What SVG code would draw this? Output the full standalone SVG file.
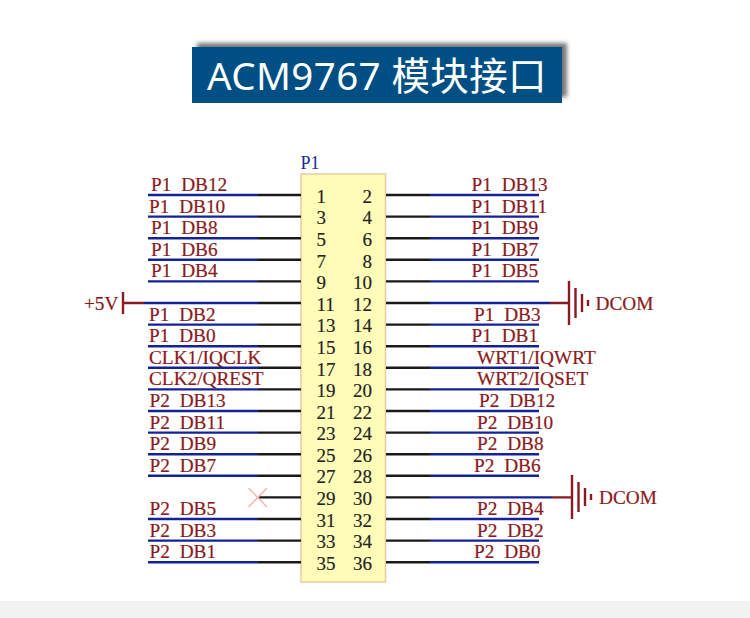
<svg xmlns="http://www.w3.org/2000/svg" width="750" height="618" viewBox="0 0 750 618">
<style>
.lbl{font-family:"Liberation Serif",serif;font-size:19.3px;fill:#8a1a20;stroke:#8a1a20;stroke-width:.2;word-spacing:5px}
.pin{font-family:"Liberation Serif",serif;font-size:19px;fill:#222;stroke:#222;stroke-width:.15}
.r{text-anchor:end}
.net{stroke:#14229a;stroke-width:2.4;fill:none}
.wire{stroke:#1a1a1a;stroke-width:2.4;fill:none}
.pwr{stroke:#8a1a20;stroke-width:2.4;fill:none}
</style>
<defs><filter id="blur" x="-5%" y="-30%" width="110%" height="160%"><feGaussianBlur stdDeviation="2"/></filter></defs>
<rect id="footer" x="0" y="601" width="750" height="17" fill="#f2f2f2"/>
<g id="title">
<rect x="197" y="43" width="370" height="54" fill="#777" filter="url(#blur)"/>
<rect x="192" y="47" width="370" height="56" fill="#004f84"/>
<text x="207" y="90" font-family="'Noto Sans','Noto Sans CJK SC',sans-serif" font-size="38.500" letter-spacing="0.400" fill="#fff">ACM9767 模块接口</text>
</g>
<g id="connector-P1">
<rect x="301" y="174" width="84.500" height="408" fill="#fffdb8" stroke="#edc9a0" stroke-width="1.500"/>
<text x="300.500" y="169" font-family="'Liberation Serif',serif" font-size="18" fill="#1c2a9c">P1</text>
<g class="pin">
<text x="316.500" y="202.700">1</text><text x="316.500" y="224.300">3</text><text x="316.500" y="245.900">5</text><text x="316.500" y="267.500">7</text><text x="316.500" y="289.100">9</text><text x="316.500" y="310.700">11</text><text x="316.500" y="332.300">13</text><text x="316.500" y="353.900">15</text><text x="316.500" y="375.500">17</text><text x="316.500" y="397">19</text><text x="316.500" y="418.600">21</text><text x="316.500" y="440.200">23</text><text x="316.500" y="461.800">25</text><text x="316.500" y="483.400">27</text><text x="316.500" y="505">29</text><text x="316.500" y="526.500">31</text><text x="316.500" y="548">33</text><text x="316.500" y="569.500">35</text>
<g class="r"><text x="372" y="202.700">2</text><text x="372" y="224.300">4</text><text x="372" y="245.900">6</text><text x="372" y="267.500">8</text><text x="372" y="289.100">10</text><text x="372" y="310.700">12</text><text x="372" y="332.300">14</text><text x="372" y="353.900">16</text><text x="372" y="375.500">18</text><text x="372" y="397">20</text><text x="372" y="418.600">22</text><text x="372" y="440.200">24</text><text x="372" y="461.800">26</text><text x="372" y="483.400">28</text><text x="372" y="505">30</text><text x="372" y="526.500">32</text><text x="372" y="548">34</text><text x="372" y="569.500">36</text></g>
</g>
</g>
<g id="connectors">
<path class="wire" d="M258 195H301M258 216.600H301M258 238.200H301M258 259.800H301M258 281.400H301M258 303H301M258 324.600H301M258 346.200H301M258 367.800H301M258 389.400H301M258 411H301M258 432.600H301M258 454.200H301M258 475.800H301M258 497.400H301M258 519H301M258 540.600H301M258 562.200H301"/>
<path class="wire" d="M386 195H430M386 216.600H430M386 238.200H430M386 259.800H430M386 281.400H430M386 303H430M386 324.600H430M386 346.200H430M386 367.800H430M386 389.400H430M386 411H430M386 432.600H430M386 454.200H430M386 475.800H430M386 497.400H430M386 519H430M386 540.600H430M386 562.200H430"/>
<path class="net" d="M148 195H258M148 216.600H258M148 238.200H258M148 259.800H258M148 281.400H258M144 303H258M148 324.600H258M148 346.200H258M148 367.800H258M148 389.400H258M148 411H258M148 432.600H258M148 454.200H258M148 475.800H258M148 519H258M148 540.600H258M148 562.200H258"/>
<path class="net" d="M430 195H539M430 216.600H539M430 238.200H539M430 259.800H539M430 281.400H539M430 303H550M430 324.600H539M430 346.200H539M430 367.800H539M430 389.400H539M430 411H539M430 432.600H539M430 454.200H539M430 475.800H539M430 497.400H552M430 519H539M430 540.600H539M430 562.200H539"/>
</g>
<g id="labels-left" class="lbl">
<text x="151" y="191">P1 DB12</text><text x="149" y="212.500">P1 DB10</text><text x="151" y="234.200">P1 DB8</text><text x="151" y="255.800">P1 DB6</text><text x="151" y="277.400">P1 DB4</text><text x="149" y="320.500">P1 DB2</text><text x="149" y="342.200">P1 DB0</text><text x="149" y="363.800">CLK1/IQCLK</text><text x="149" y="385.400">CLK2/QREST</text><text x="149.500" y="407">P2 DB13</text><text x="149.500" y="428.500">P2 DB11</text><text x="149.500" y="450.200">P2 DB9</text><text x="149.500" y="471.800">P2 DB7</text><text x="149.500" y="515">P2 DB5</text><text x="149.500" y="536.500">P2 DB3</text><text x="149.500" y="558.200">P2 DB1</text>
</g>
<g id="labels-right" class="lbl">
<text x="471.500" y="191">P1 DB13</text><text x="471.500" y="212.500">P1 DB11</text><text x="471.500" y="234.200">P1 DB9</text><text x="471.500" y="255.800">P1 DB7</text><text x="471.500" y="277.400">P1 DB5</text><text x="474" y="320.500">P1 DB3</text><text x="471.500" y="342.200">P1 DB1</text><text x="477" y="363.800">WRT1/IQWRT</text><text x="477" y="385.400">WRT2/IQSET</text><text x="479" y="407">P2 DB12</text><text x="477" y="428.500">P2 DB10</text><text x="477" y="450.200">P2 DB8</text><text x="474" y="471.800">P2 DB6</text><text x="477" y="515">P2 DB4</text><text x="477" y="536.500">P2 DB2</text><text x="474" y="558.200">P2 DB0</text>
</g>
<g id="power-5V">
<path class="pwr" d="M123 292V314M123 303H144"/>
<text class="lbl" x="84" y="309.500">+5V</text>
</g>
<g id="ground-DCOM-1">
<path class="pwr" d="M550 303H569M569 281V325M575.500 288V318M582 294V312M588 300V306"/>
<text class="lbl" x="595.500" y="310">DCOM</text>
</g>
<g id="ground-DCOM-2">
<path class="pwr" d="M552 497.400H572M572 475V519M578.500 482V512M585 488V506M591 494V500"/>
<text class="lbl" x="599" y="504">DCOM</text>
</g>
<g id="no-connect"><path d="M248.500 488L267 507M267 488L248.500 507" stroke="#f5b5b5" stroke-width="1.500" fill="none"/></g>
</svg>
